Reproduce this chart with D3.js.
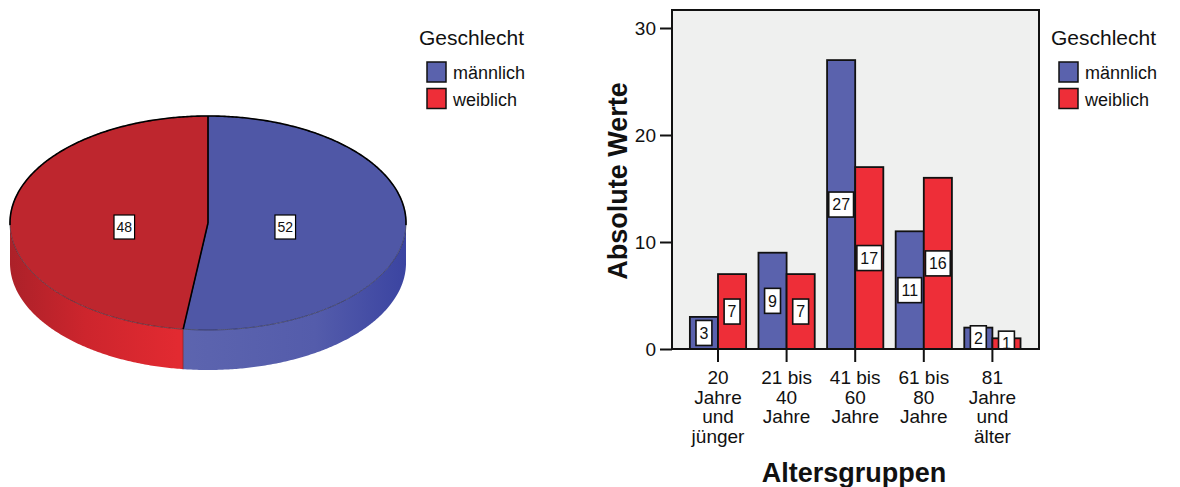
<!DOCTYPE html>
<html>
<head>
<meta charset="utf-8">
<script src="https://cdn.jsdelivr.net/npm/d3@7/dist/d3.min.js"></script>
<style>
  html, body { margin: 0; padding: 0; background: #fff; }
  svg { display: block; font-family: "Liberation Sans", Arial, sans-serif; }
</style>
</head>
<body>
<svg id="chart" width="1180" height="487"></svg>
<script>
// Gender split (pie) and counts per age group (grouped bars)
const genderLabels = ["männlich", "weiblich"];
const genderColors = ["#5a62ad", "#ee2e38"];
const pieValues = [52, 48];

const ageGroups = [
  ["20", "Jahre", "und", "jünger"],
  ["21 bis", "40", "Jahre"],
  ["41 bis", "60", "Jahre"],
  ["61 bis", "80", "Jahre"],
  ["81", "Jahre", "und", "älter"]
];
const maleCounts = [3, 9, 27, 11, 2];
const femaleCounts = [7, 7, 17, 16, 1];
const yTicks = [0, 10, 20, 30];

const svg = d3.select("#chart");
const defs = svg.append("defs");

// ---------- 3D pie ----------
const pie = { cx: 208, cy: 223, rx: 198, ry: 107, depth: 40 };
const topColors = ["#4f57a6", "#be262e"];

const blueSide = defs.append("linearGradient").attr("id", "sideBlue")
  .attr("gradientUnits", "userSpaceOnUse")
  .attr("x1", pie.cx - 30).attr("x2", pie.cx + pie.rx).attr("y1", 0).attr("y2", 0);
blueSide.append("stop").attr("offset", 0).attr("stop-color", "#5d65af");
blueSide.append("stop").attr("offset", 0.6).attr("stop-color", "#545cab");
blueSide.append("stop").attr("offset", 1).attr("stop-color", "#3b44a1");

const redSide = defs.append("linearGradient").attr("id", "sideRed")
  .attr("gradientUnits", "userSpaceOnUse")
  .attr("x1", pie.cx - 30).attr("x2", pie.cx - pie.rx).attr("y1", 0).attr("y2", 0);
redSide.append("stop").attr("offset", 0).attr("stop-color", "#e22a31");
redSide.append("stop").attr("offset", 0.55).attr("stop-color", "#cd252d");
redSide.append("stop").attr("offset", 1).attr("stop-color", "#ac2129");
const sideFills = ["url(#sideBlue)", "url(#sideRed)"];

const arcs = d3.pie().sort(null).value(d => d)(pieValues);
const pt = (a, dy = 0) => [pie.cx + pie.rx * Math.sin(a), pie.cy - pie.ry * Math.cos(a) + dy];
const sampleArc = (a0, a1, dy = 0) => {
  const n = Math.max(2, Math.ceil(Math.abs(a1 - a0) / 0.01));
  return d3.range(n + 1).map(i => pt(a0 + (a1 - a0) * i / n, dy));
};
const lineGen = d3.line();

const gPie = svg.append("g");

// sides (front half only)
arcs.forEach((a, i) => {
  const s0 = Math.max(a.startAngle, Math.PI / 2);
  const s1 = Math.min(a.endAngle, 3 * Math.PI / 2);
  if (s0 >= s1) return;
  const pts = sampleArc(s0, s1).concat(sampleArc(s1, s0, pie.depth));
  gPie.append("path").attr("d", lineGen(pts) + "Z")
    .attr("fill", sideFills[i]).attr("stroke", "none");
});
// seam on the side where the slices meet
arcs.forEach(a => {
  const e = a.endAngle;
  if (e > Math.PI / 2 && e < 3 * Math.PI / 2) {
    gPie.append("path").attr("d", lineGen([pt(e), pt(e, pie.depth)]))
      .attr("stroke", "#3a2030").attr("stroke-width", 0.6);
  }
});

// top faces
arcs.forEach((a, i) => {
  const pts = [[pie.cx, pie.cy]].concat(sampleArc(a.startAngle, a.endAngle));
  gPie.append("path").attr("d", lineGen(pts) + "Z")
    .attr("fill", topColors[i]).attr("stroke", "#2a2a3a").attr("stroke-width", 0.6);
});
// back rim outline
gPie.append("path").attr("d", lineGen(sampleArc(-Math.PI / 2 - 0.02, Math.PI / 2 + 0.02)))
  .attr("fill", "none").attr("stroke", "#000").attr("stroke-width", 1.6);
// radial dividers
arcs.forEach(a => {
  gPie.append("path").attr("d", lineGen([[pie.cx, pie.cy], pt(a.startAngle)]))
    .attr("stroke", "#000").attr("stroke-width", 1.6);
});

// slice value labels, placed horizontally at the sector centroid
arcs.forEach(a => {
  const half = (a.endAngle - a.startAngle) / 2;
  const mid = a.startAngle + half;
  const r = 0.96 * 2 * Math.sin(half) / (3 * half);
  const x = pie.cx + pie.rx * r * Math.sin(mid);
  const y = pie.cy + 4;
  const g = gPie.append("g").attr("transform", `translate(${x},${y})`);
  const t = g.append("text").attr("text-anchor", "middle").attr("dy", "0.36em")
    .attr("font-size", 14).attr("fill", "#111").text(a.data);
  const w = t.node().getComputedTextLength() + 5;
  g.insert("rect", "text").attr("x", -w / 2).attr("y", -12).attr("width", w).attr("height", 24)
    .attr("fill", "#fff").attr("stroke", "#000").attr("stroke-width", 1.2);
});

// ---------- legends ----------
function legend(x, y) {
  const g = svg.append("g").attr("transform", `translate(${x},${y})`);
  g.append("text").attr("x", 0).attr("y", 0).attr("font-size", 21).attr("fill", "#111").text("Geschlecht");
  genderLabels.forEach((lab, i) => {
    const yy = 17 + i * 26.5;
    g.append("rect").attr("x", 8).attr("y", yy).attr("width", 19).attr("height", 20)
      .attr("fill", genderColors[i]).attr("stroke", "#111").attr("stroke-width", 1.5);
    g.append("text").attr("x", 34).attr("y", yy + 17).attr("font-size", 18).attr("fill", "#111").text(lab);
  });
}
legend(419, 45);
legend(1051, 45);

// ---------- grouped bar chart ----------
const plot = { left: 672, right: 1039, top: 10, bottom: 349 };
const y = d3.scaleLinear().domain([0, 30]).range([349, 28]);
const x0 = d3.scaleBand().domain(d3.range(ageGroups.length))
  .range([683.7, 1026.7]).paddingInner(0.18).paddingOuter(0.09);
const x1 = d3.scaleBand().domain([0, 1]).range([0, x0.bandwidth()]);

svg.append("rect").attr("x", plot.left).attr("y", plot.top)
  .attr("width", plot.right - plot.left).attr("height", plot.bottom - plot.top)
  .attr("fill", "#eff0ef");

defs.append("clipPath").attr("id", "plotClip").append("rect")
  .attr("x", plot.left).attr("y", plot.top)
  .attr("width", plot.right - plot.left).attr("height", plot.bottom - plot.top);

const series = [maleCounts, femaleCounts];
const gBars = svg.append("g").attr("clip-path", "url(#plotClip)");
ageGroups.forEach((_, gi) => {
  series.forEach((vals, si) => {
    gBars.append("rect")
      .attr("x", x0(gi) + x1(si)).attr("y", y(vals[gi]))
      .attr("width", x1.bandwidth()).attr("height", y(0) - y(vals[gi]))
      .attr("fill", genderColors[si]).attr("stroke", "#111").attr("stroke-width", 1.8);
  });
});
// value labels, centred at half the bar height
ageGroups.forEach((_, gi) => {
  series.forEach((vals, si) => {
    const cx = x0(gi) + x1(si) + x1.bandwidth() / 2;
    const cy = y(vals[gi] / 2);
    const g = gBars.append("g").attr("transform", `translate(${cx},${cy})`);
    const t = g.append("text").attr("text-anchor", "middle").attr("dy", "0.36em")
      .attr("font-size", 16).attr("fill", "#111").text(vals[gi]);
    const w = t.node().getComputedTextLength() + 7;
    g.insert("rect", "text").attr("x", -w / 2).attr("y", -12.5).attr("width", w).attr("height", 25)
      .attr("fill", "#fff").attr("stroke", "#111").attr("stroke-width", 1.6);
  });
});

// frame
svg.append("rect").attr("x", plot.left).attr("y", plot.top)
  .attr("width", plot.right - plot.left).attr("height", plot.bottom - plot.top)
  .attr("fill", "none").attr("stroke", "#111").attr("stroke-width", 2);

// y axis
const yAxis = svg.append("g").attr("transform", `translate(${plot.left},0)`)
  .call(d3.axisLeft(y).tickValues(yTicks).tickSize(12).tickPadding(4).tickFormat(d3.format("d")));
yAxis.select(".domain").remove();
yAxis.selectAll(".tick line").attr("stroke", "#111").attr("stroke-width", 2);
yAxis.selectAll(".tick text").attr("font-size", 19).attr("fill", "#111")
  .attr("font-family", "Liberation Sans, Arial, sans-serif");

// x axis
const xAxis = svg.append("g").attr("transform", `translate(0,${plot.bottom})`)
  .call(d3.axisBottom(x0).tickSize(13).tickFormat(() => ""));
xAxis.select(".domain").remove();
xAxis.selectAll(".tick line").attr("stroke", "#111").attr("stroke-width", 2);
xAxis.selectAll(".tick text").remove();
xAxis.selectAll(".tick").each(function (d) {
  const t = d3.select(this).append("text").attr("text-anchor", "middle")
    .attr("font-size", 19).attr("fill", "#111")
    .attr("font-family", "Liberation Sans, Arial, sans-serif");
  ageGroups[d].forEach((line, li) => {
    t.append("tspan").attr("x", 0).attr("y", 35 + li * 19.7).text(line);
  });
});

// axis titles
svg.append("text").attr("transform", "translate(627,181) rotate(-90)")
  .attr("text-anchor", "middle").attr("font-size", 27).attr("font-weight", "bold")
  .attr("fill", "#111").text("Absolute Werte");
svg.append("text").attr("x", 854).attr("y", 482)
  .attr("text-anchor", "middle").attr("font-size", 27).attr("font-weight", "bold")
  .attr("fill", "#111").text("Altersgruppen");
</script>
</body>
</html>
